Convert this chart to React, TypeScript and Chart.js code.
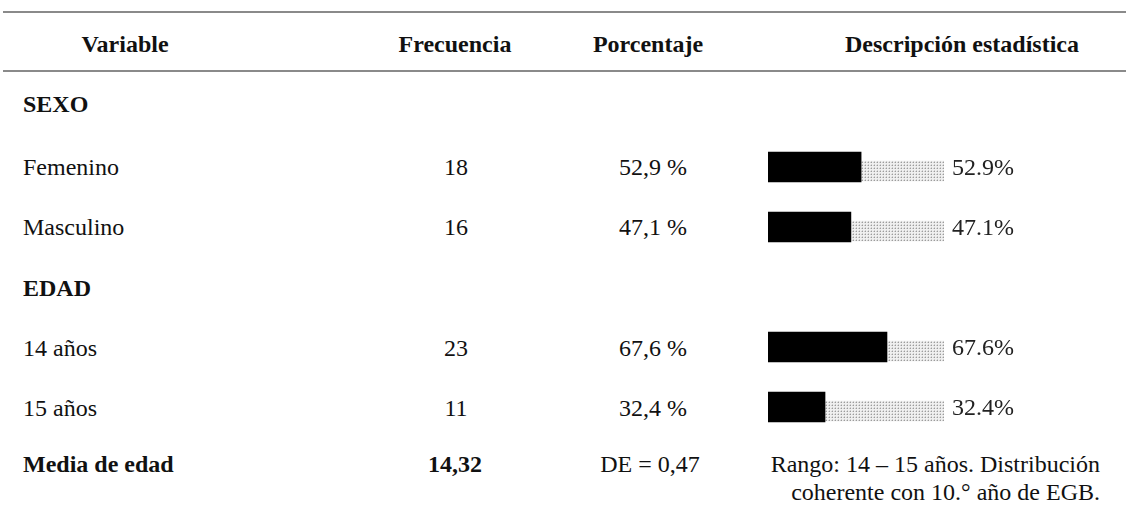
import React, { useEffect, useRef } from "react";
import { Chart, registerables } from "chart.js";

Chart.register(...registerables);

// ---- Data ----
const headers = ["Variable", "Frecuencia", "Porcentaje", "Descripción estadística"];
const groupLabels = ["SEXO", "EDAD"];
const barCategories = ["Femenino", "Masculino", "EDAD", "14 años", "15 años"];
const frequencies = [18, 16, null, 23, 11];
const barPercentages = [52.9, 47.1, null, 67.6, 32.4];
const meanLabel = "Media de edad";
const meanValue = "14,32";
const sdText = "DE = 0,47";
const descriptionLines = ["Rango: 14 – 15 años. Distribución", "coherente con 10.° año de EGB."];

const SERIF = '"Liberation Serif", "Times New Roman", serif';
const TEXT = "#111111";

type TProps = { x: number; y: number; align?: "left" | "center" | "right"; bold?: boolean; size?: number; children: React.ReactNode };
function T({ x, y, align = "left", bold = false, size = 24, children }: TProps) {
  const tx = align === "center" ? "translateX(-50%)" : align === "right" ? "translateX(-100%)" : "none";
  return (
    <div
      style={{
        position: "absolute",
        left: x,
        top: y - 15,
        height: 30,
        lineHeight: "30px",
        fontSize: size,
        fontFamily: SERIF,
        fontWeight: bold ? 700 : 400,
        color: TEXT,
        whiteSpace: "nowrap",
        transform: tx,
      }}
    >
      {children}
    </div>
  );
}

function makePattern(): CanvasPattern | string {
  const c = document.createElement("canvas");
  c.width = 3;
  c.height = 3;
  const g = c.getContext("2d");
  if (!g) return "#d0d0d0";
  g.fillStyle = "#efefef";
  g.fillRect(0, 0, 3, 3);
  g.fillStyle = "#9c9c9c";
  g.fillRect(1, 1, 1, 1);
  g.fillStyle = "#cfcfcf";
  g.fillRect(0, 1, 1, 1);
  g.fillRect(1, 0, 1, 1);
  const p = g.createPattern(c, "repeat");
  return p || "#d0d0d0";
}

const barLabelPlugin = {
  id: "barLabels",
  afterDatasetsDraw(chart: any) {
    const ctx = chart.ctx;
    const meta = chart.getDatasetMeta(1);
    ctx.save();
    ctx.font = `24px ${SERIF}`;
    ctx.fillStyle = "#222";
    ctx.textAlign = "left";
    ctx.textBaseline = "alphabetic";
    meta.data.forEach((el: any, i: number) => {
      const v = barPercentages[i];
      if (v == null) return;
      const { x, y } = el.getProps(["x", "y"], true);
      ctx.fillText(v.toFixed(1) + "%", x + 8, y + 8);
    });
    ctx.restore();
  },
};

function BarsChart() {
  const ref = useRef<HTMLCanvasElement | null>(null);
  useEffect(() => {
    if (!ref.current) return;
    const pattern = makePattern();
    const chart = new Chart(ref.current, {
      type: "bar",
      data: {
        labels: barCategories,
        datasets: [
          {
            data: barPercentages as any,
            backgroundColor: "#000000",
            borderWidth: 0,
            barThickness: 30,
          },
          {
            data: barPercentages.map((v) => (v == null ? null : [v, 100])) as any,
            backgroundColor: pattern as any,
            borderColor: "#ffffff",
            borderWidth: { top: 9, bottom: 1, left: 0, right: 0 } as any,
            borderSkipped: false,
            barThickness: 30,
          },
        ],
      },
      options: {
        indexAxis: "y",
        responsive: false,
        animation: false,
        grouped: false,
        layout: { padding: { left: 0, right: 182, top: 0, bottom: 0 } },
        plugins: { legend: { display: false }, tooltip: { enabled: false } },
        scales: {
          x: { type: "linear", min: 0, max: 100, display: false },
          y: { type: "category", display: false, offset: true },
        },
      } as any,
      plugins: [barLabelPlugin],
    });
    return () => chart.destroy();
  }, []);
  return (
    <canvas
      ref={ref}
      width={358}
      height={300}
      style={{ position: "absolute", left: 768, top: 137, width: 358, height: 300 }}
    />
  );
}

export default function App() {
  const rowY = [167, 227, 287, 348, 408];
  return (
    <div style={{ position: "absolute", left: 0, top: 0, width: 1126, height: 510, background: "#fff", overflow: "hidden" }}>
      <div style={{ position: "absolute", left: 3, top: 11, width: 1123, height: 2, background: "#8a8a8a" }} />
      <div style={{ position: "absolute", left: 3, top: 70, width: 1123, height: 2, background: "#8a8a8a" }} />

      <T x={125} y={44} align="center" bold>{headers[0]}</T>
      <T x={455} y={44} align="center" bold>{headers[1]}</T>
      <T x={648} y={44} align="center" bold>{headers[2]}</T>
      <T x={962} y={44} align="center" bold>{headers[3]}</T>

      <T x={23} y={104} bold>{groupLabels[0]}</T>
      <T x={23} y={288} bold>{groupLabels[1]}</T>

      {barCategories.map((c, i) =>
        barPercentages[i] == null ? null : (
          <React.Fragment key={c}>
            <T x={23} y={rowY[i]}>{c}</T>
            <T x={456} y={rowY[i]} align="center">{String(frequencies[i])}</T>
            <T x={653} y={rowY[i]} align="center">
              {(barPercentages[i] as number).toFixed(1).replace(".", ",") + " %"}
            </T>
          </React.Fragment>
        )
      )}

      <T x={23} y={464} bold>{meanLabel}</T>
      <T x={455} y={464} align="center" bold>{meanValue}</T>
      <T x={650} y={464} align="center">{sdText}</T>
      <T x={1100} y={464} align="right">{descriptionLines[0]}</T>
      <T x={1100} y={492} align="right">{descriptionLines[1]}</T>

      <BarsChart />
    </div>
  );
}
